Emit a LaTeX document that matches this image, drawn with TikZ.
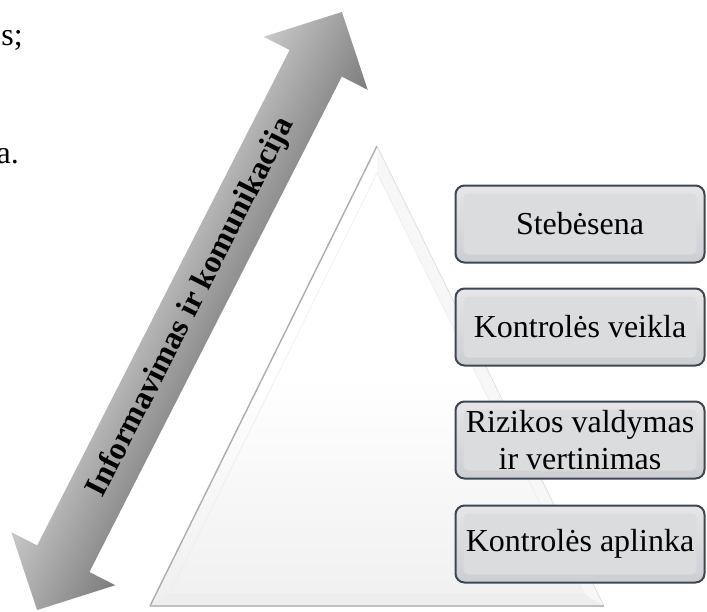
\documentclass[tikz,border=0pt]{standalone}
\usepackage{fontspec}
\setmainfont{Liberation Serif}
\usetikzlibrary{calc}
\definecolor{boxline}{HTML}{3D4754}
\definecolor{boxtop}{HTML}{E6E6E8}
\definecolor{boxbot}{HTML}{CDCED1}
\definecolor{boxface}{HTML}{DBDCDE}
\definecolor{arrlight}{HTML}{C8C8C8}
\definecolor{arrdark}{HTML}{7C7C7C}
\tikzset{
  bigtext/.style={font=\fontsize{32}{37}\selectfont},
  frag/.style={bigtext, inner sep=0pt},
  layer/.style={draw=boxline, line width=2pt, rounded corners=9pt,
    minimum width=249pt, minimum height=77pt, inner sep=0pt,
    top color=boxtop, bottom color=boxbot, bigtext, align=center,
    path picture={\fill[boxface, rounded corners=5pt]
      ($(path picture bounding box.north west)+(8,8)$) rectangle
      ($(path picture bounding box.south east)+(-8,-8)$);}},
}
\begin{document}
\begin{tikzpicture}[x=1pt,y=-1pt]
\useasboundingbox (0,0) rectangle (707,611);
\clip (0,0) rectangle (707,611);

% cut text fragments on the left
\node[frag, anchor=base east] (f1) at (23,45) {s;};
\node[frag, anchor=base east] (f2) at (19,163) {a.};

% triangle
\coordinate (apex) at (377,146);
\coordinate (br) at (604,606);
\coordinate (bl) at (150,606);
\coordinate (iapex) at (377,173);
\coordinate (ibr) at (584.7,594);
\coordinate (ibl) at (169.3,594);
\shade[top color=white, bottom color=gray!12, middle color=white] (apex) -- (br) -- (bl) -- cycle;
\fill[gray!13] (bl) -- (br) -- (ibr) -- (ibl) -- cycle;
\fill[gray!6] (apex) -- (br) -- (ibr) -- (iapex) -- cycle;
\draw[gray!14, line width=0.6pt] (ibl) -- (iapex) -- (ibr) -- cycle;
\draw[gray!65, line width=1.4pt] (bl) -- (apex);
\draw[gray!25, line width=0.8pt] (apex) -- (br);
\draw[gray!50, line width=2pt] (bl) -- (br);

% double arrow (shape drawn in a rotated canvas so the shading follows it)
\begin{scope}[transform canvas={shift={(189.5,311)}, rotate=63}]
  \shade[top color=arrlight, bottom color=arrdark]
    (335.6,0) -- (278,-58.4) -- (278,-29.3) -- (-278,-29.3) -- (-278,-58.4)
    -- (-335.6,0) -- (-278,58.4) -- (-278,29.3) -- (278,29.3) -- (278,58.4) -- cycle;
\end{scope}
\node[font=\fontsize{32}{37}\selectfont\bfseries, inner sep=0pt, rotate=63]
  (lab) at (191.3,307.4) {Informavimas ir komunikacija};

% component boxes
\node[layer] (b1) at (580,224) {Stebėsena};
\node[layer] (b2) at (580,327) {Kontrolės veikla};
\node[layer] (b3) at (580,440) {Rizikos valdymas\\ir vertinimas};
\node[layer] (b4) at (580,544) {Kontrolės aplinka};
\end{tikzpicture}
\end{document}
